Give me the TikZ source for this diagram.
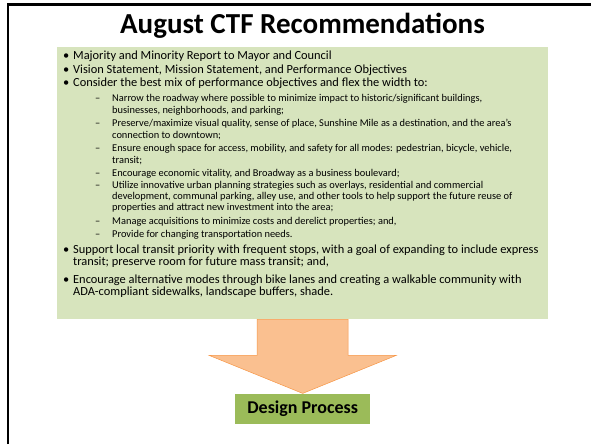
\documentclass[tikz,border=0pt]{standalone}
\usepackage{fontspec}
\setmainfont{Carlito}
\usepackage{xcolor}
\usetikzlibrary{positioning}

\definecolor{boxgreen}{HTML}{D7E4BD}
\definecolor{arroworange}{HTML}{FAC090}
\definecolor{arrowedge}{HTML}{F79646}
\definecolor{designgreen}{HTML}{9BBB59}

\newcommand{\blt}{\llap{\textbullet\hspace{4pt}}}
\newcommand{\dsh}{\llap{\textendash\hspace{12pt}}}

\tikzset{
  itemone/.style={anchor=base west, inner sep=0pt, font=\fontsize{12.4}{14}\selectfont},
  itemtwo/.style={anchor=base west, inner sep=0pt, font=\fontsize{10.4}{12}\selectfont},
}

\begin{document}
\begin{tikzpicture}[x=1pt,y={(0pt,-1pt)}]
    \useasboundingbox (0,0) rectangle (591,444);

    % Slide frame
    \draw[line width=2.2pt] (8,444) -- (8,4.5) -- (591,4.5);

    % Title
    \node[anchor=base, font=\bfseries\fontsize{29}{31}\selectfont] (title) at (302.5,34) {August CTF Recommendations};

    % Green box with the recommendations
    \node[fill=boxgreen, anchor=north west, inner sep=0pt, minimum width=491pt, minimum height=272pt] (recs) at (57,47) {};

    % Main bullets
    \node[itemone] (majority) at (73,59.5) {\blt Majority and Minority Report to Mayor and Council};
    \node[itemone] (vision) at (73,73.5) {\blt Vision Statement, Mission Statement, and Performance Objectives};
    \node[itemone] (consider) at (73,86.5) {\blt Consider the best mix of performance objectives and flex the width to:};

    % Sub items
    \node[itemtwo] (narrowa) at (112,101) {\dsh Narrow the roadway where possible to minimize impact to historic/significant buildings,};
    \node[itemtwo] (narrowb) at (112,113) {businesses, neighborhoods, and parking;};
    \node[itemtwo] (preservea) at (112,126) {\dsh Preserve/maximize visual quality, sense of place, Sunshine Mile as a destination, and the area’s};
    \node[itemtwo] (preserveb) at (112,138) {connection to downtown;};
    \node[itemtwo] (ensurea) at (112,151) {\dsh Ensure enough space for access, mobility, and safety for all modes: pedestrian, bicycle, vehicle,};
    \node[itemtwo] (ensureb) at (112,163) {transit;};
    \node[itemtwo] (vitality) at (112,176) {\dsh Encourage economic vitality, and Broadway as a business boulevard;};
    \node[itemtwo] (utilizea) at (112,188) {\dsh Utilize innovative urban planning strategies such as overlays, residential and commercial};
    \node[itemtwo] (utilizeb) at (112,199) {development, communal parking, alley use, and other tools to help support the future reuse of};
    \node[itemtwo] (utilizec) at (112,210) {properties and attract new investment into the area;};
    \node[itemtwo] (manage) at (112,224) {\dsh Manage acquisitions to minimize costs and derelict properties; and,};
    \node[itemtwo] (provide) at (112,237) {\dsh Provide for changing transportation needs.};

    % Last two bullets
    \node[itemone] (supporta) at (73,253.5) {\blt Support local transit priority with frequent stops, with a goal of expanding to include express};
    \node[itemone] (supportb) at (73,265) {transit; preserve room for future mass transit; and,};
    \node[itemone] (modesa) at (73,283.5) {\blt Encourage alternative modes through bike lanes and creating a walkable community with};
    \node[itemone] (modesb) at (73,295.5) {ADA-compliant sidewalks, landscape buffers, shade.};

    % Result box
    \node[fill=designgreen, inner sep=0pt, minimum width=135pt, minimum height=30pt, font=\bfseries\fontsize{18}{20}\selectfont, below=74pt of recs] (design) {Design Process};

    % Block arrow from the box down to the result
    \draw[fill=arroworange, draw=arrowedge, line width=0.5pt, line join=miter]
        ([xshift=-45.5pt]recs.south) -- ++(0,36) -- ++(-48,0) -- (design.north)
        -- ([xshift=93.5pt,yshift=38pt]design.north) -- ++(-48,0) -- ([xshift=45.5pt]recs.south) -- cycle;
\end{tikzpicture}
\end{document}
